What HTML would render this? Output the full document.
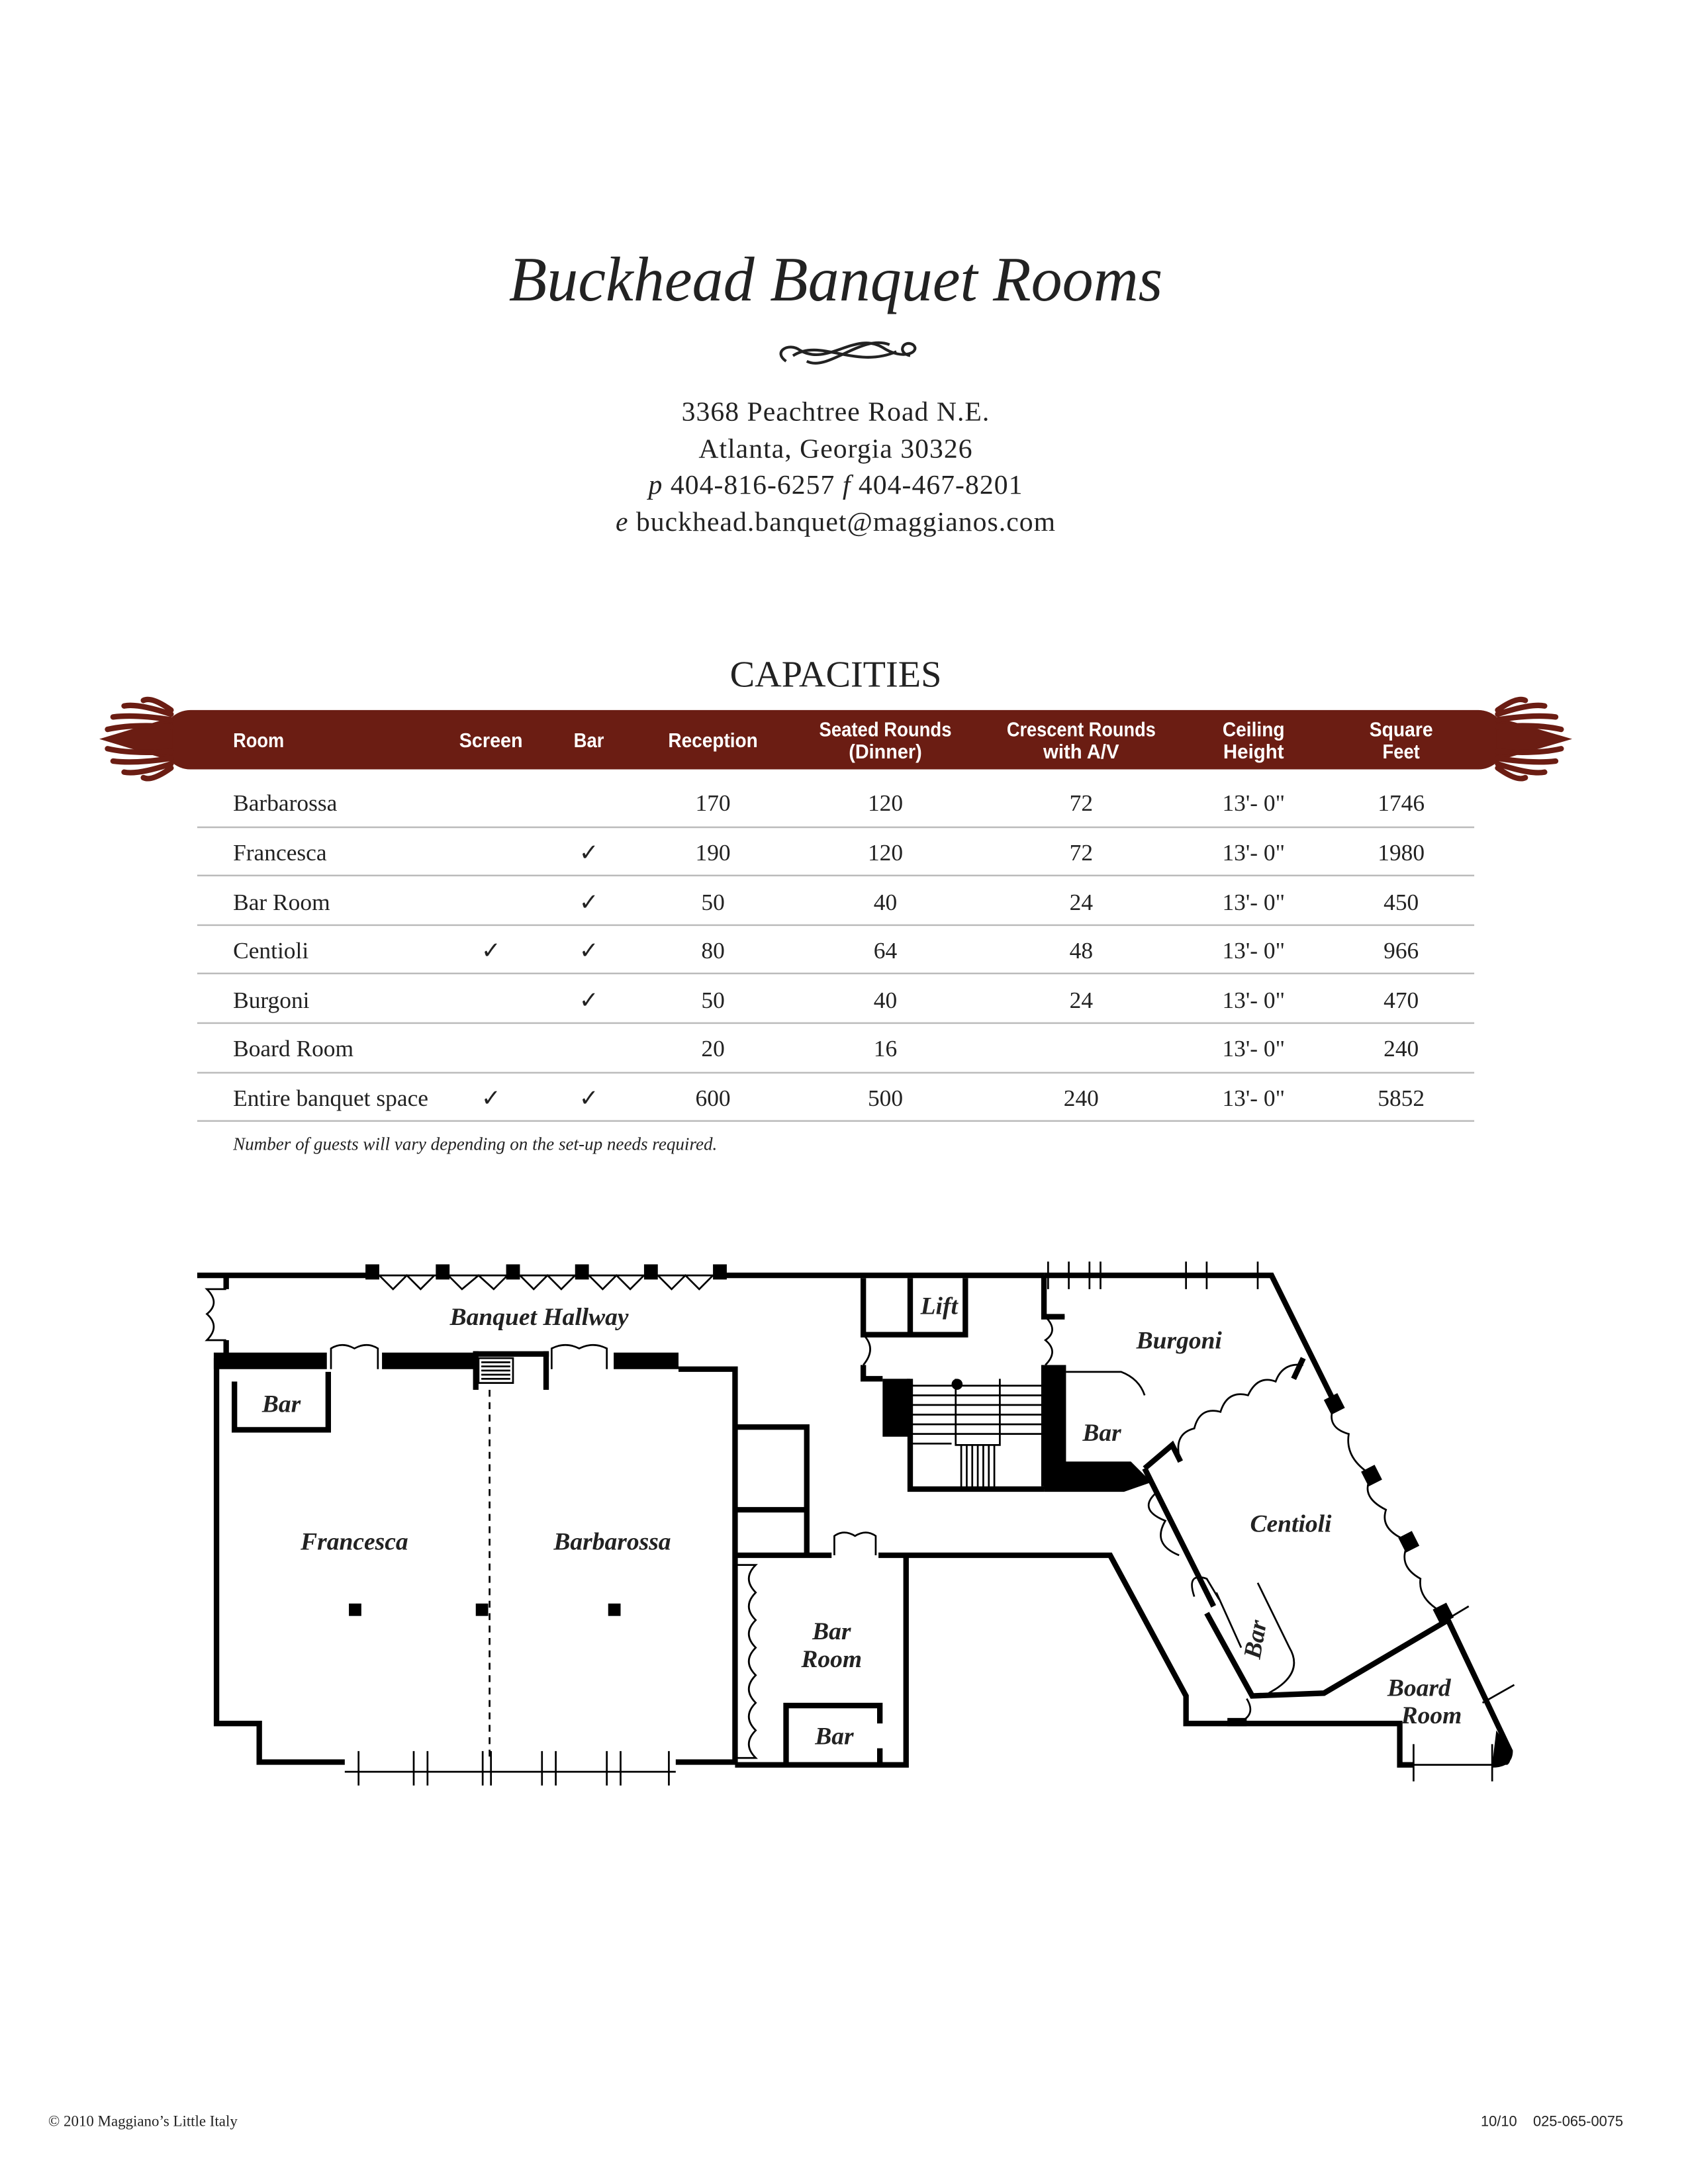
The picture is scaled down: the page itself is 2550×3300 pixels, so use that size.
<!DOCTYPE html>
<html><head><meta charset="utf-8"><style>
html,body{margin:0;padding:0;background:#fff}
svg{display:block}
.s{font-family:"Liberation Serif",serif}
.h{font-family:"Liberation Sans Narrow","Liberation Sans",sans-serif;font-weight:bold;fill:#fff;font-size:14.5px;text-anchor:middle}
.r{font-family:"Liberation Serif",serif;font-size:17px;fill:#222;text-anchor:middle}
.l{font-family:"Liberation Serif",serif;font-style:italic;font-weight:bold;fill:#222;font-size:18px;text-anchor:middle}
</style></head><body>
<svg width="2550" height="3300" viewBox="0 0 1224 1584" xmlns="http://www.w3.org/2000/svg">
<rect width="1224" height="1584" fill="#fff"/>
<text x="606" y="218" class="s" font-style="italic" font-size="46" text-anchor="middle" fill="#222" textLength="474" lengthAdjust="spacingAndGlyphs">Buckhead Banquet Rooms</text>
<g fill="none" stroke="#222" stroke-width="2">
<path d="M570 262 C560 255 572 248 580 254 C600 266 620 240 640 252 C655 262 668 255 662 250 C655 246 650 256 660 258"/>
<path d="M575 258 C595 245 620 268 650 255 M585 262 C600 270 625 242 645 250"/>
</g>
<g class="s" font-size="20" fill="#222" text-anchor="middle" style="white-space:pre" letter-spacing="0.5">
<text x="606" y="305">3368 Peachtree Road N.E.</text>
<text x="606" y="332">Atlanta, Georgia 30326</text>
<text x="606" y="358"><tspan font-style="italic">p</tspan>  404-816-6257   <tspan font-style="italic">f</tspan>  404-467-8201</text>
<text x="606" y="385"><tspan font-style="italic">e</tspan>  buckhead.banquet@maggianos.com</text>
<text x="606" y="498" font-size="27" letter-spacing="0">CAPACITIES</text>
</g>
<rect x="118" y="515" width="974" height="43" rx="20" fill="#6b1d13"/>
<g fill="#6b1d13">
<path d="M125 520 L72 536 L125 552 Z"/>
<path d="M1085 520 L1140 536 L1085 552 Z"/>
<g stroke="#6b1d13" stroke-width="4" fill="none" stroke-linecap="round">
<path d="M124 518 Q100 510 90 512 M124 522 Q98 518 82 520 M124 527 Q95 525 78 529 M124 545 Q95 547 78 543 M124 550 Q98 554 82 552 M124 554 Q100 562 90 560 M124 515 Q110 505 104 508 M124 557 Q110 567 104 564"/>
<path d="M1086 518 Q1110 510 1120 512 M1086 522 Q1112 518 1128 520 M1086 527 Q1115 525 1132 529 M1086 545 Q1115 547 1132 543 M1086 550 Q1112 554 1128 552 M1086 554 Q1110 562 1120 560 M1086 515 Q1100 505 1106 508 M1086 557 Q1100 567 1106 564"/>
</g></g>
<g class="h" lengthAdjust="spacingAndGlyphs">
<text x="169" y="542" style="text-anchor:start" textLength="37" lengthAdjust="spacingAndGlyphs">Room</text>
<text x="356" y="542" textLength="46" lengthAdjust="spacingAndGlyphs">Screen</text>
<text x="427" y="542" textLength="22" lengthAdjust="spacingAndGlyphs">Bar</text>
<text x="517" y="542" textLength="65" lengthAdjust="spacingAndGlyphs">Reception</text>
<text x="642" y="534" textLength="96" lengthAdjust="spacingAndGlyphs">Seated Rounds</text><text x="642" y="550" textLength="53" lengthAdjust="spacingAndGlyphs">(Dinner)</text>
<text x="784" y="534" textLength="108" lengthAdjust="spacingAndGlyphs">Crescent Rounds</text><text x="784" y="550" textLength="55" lengthAdjust="spacingAndGlyphs">with A/V</text>
<text x="909" y="534" textLength="45" lengthAdjust="spacingAndGlyphs">Ceiling</text><text x="909" y="550" textLength="44" lengthAdjust="spacingAndGlyphs">Height</text>
<text x="1016" y="534" textLength="46" lengthAdjust="spacingAndGlyphs">Square</text><text x="1016" y="550" textLength="27" lengthAdjust="spacingAndGlyphs">Feet</text>
</g>
<g stroke="#bbb" stroke-width="1.2">
<line x1="143" y1="600" x2="1069" y2="600"/><line x1="143" y1="635" x2="1069" y2="635"/><line x1="143" y1="671" x2="1069" y2="671"/><line x1="143" y1="706" x2="1069" y2="706"/><line x1="143" y1="742" x2="1069" y2="742"/><line x1="143" y1="778" x2="1069" y2="778"/><line x1="143" y1="813" x2="1069" y2="813"/>
</g>
<g class="r">
<text x="169" y="588" style="text-anchor:start">Barbarossa</text><text x="517" y="588">170</text><text x="642" y="588">120</text><text x="784" y="588">72</text><text x="909" y="588">13'- 0"</text><text x="1016" y="588">1746</text>
<text x="169" y="624" style="text-anchor:start">Francesca</text><text x="427" y="624">✓</text><text x="517" y="624">190</text><text x="642" y="624">120</text><text x="784" y="624">72</text><text x="909" y="624">13'- 0"</text><text x="1016" y="624">1980</text>
<text x="169" y="660" style="text-anchor:start">Bar Room</text><text x="427" y="660">✓</text><text x="517" y="660">50</text><text x="642" y="660">40</text><text x="784" y="660">24</text><text x="909" y="660">13'- 0"</text><text x="1016" y="660">450</text>
<text x="169" y="695" style="text-anchor:start">Centioli</text><text x="356" y="695">✓</text><text x="427" y="695">✓</text><text x="517" y="695">80</text><text x="642" y="695">64</text><text x="784" y="695">48</text><text x="909" y="695">13'- 0"</text><text x="1016" y="695">966</text>
<text x="169" y="731" style="text-anchor:start">Burgoni</text><text x="427" y="731">✓</text><text x="517" y="731">50</text><text x="642" y="731">40</text><text x="784" y="731">24</text><text x="909" y="731">13'- 0"</text><text x="1016" y="731">470</text>
<text x="169" y="766" style="text-anchor:start">Board Room</text><text x="517" y="766">20</text><text x="642" y="766">16</text><text x="909" y="766">13'- 0"</text><text x="1016" y="766">240</text>
<text x="169" y="802" style="text-anchor:start">Entire banquet space</text><text x="356" y="802">✓</text><text x="427" y="802">✓</text><text x="517" y="802">600</text><text x="642" y="802">500</text><text x="784" y="802">240</text><text x="909" y="802">13'- 0"</text><text x="1016" y="802">5852</text>
</g>
<text x="169" y="834" class="s" font-style="italic" font-size="13" fill="#222">Number of guests will vary depending on the set-up needs required.</text>

<g fill="none" stroke="#000" stroke-width="4" stroke-linejoin="miter">
<path d="M143 925 H270 M522 925 H757"/>
<path d="M164 925 V935 M164 972 V985"/>
<path d="M157 985 V1250 H188 V1278 H250 M490 1278 H533 V993 H492"/>
<path d="M170 1002 V1037 H238 V995"/>
<path d="M533 1035 H585 V1128 M533 1095 H585 M533 1128 H603 M637 1128 H805 L860 1230 V1250 H1015 V1280 H1025 M1082 1280 Q1095 1280 1095 1270 L1050 1175"/>
<path d="M657 1128 V1280 H533"/>
<path d="M570 1280 V1237 H638 V1250 M638 1268 V1280"/>
<path d="M626 927 V968 H700 V927 M660 927 V968"/>
<path d="M626 990 V1000 H640 M757 925 V955 H772 M757 990 V1078"/>
<path d="M660 1000 V1080 H757"/>
<path d="M757 925 H922 L968 1018"/>
<path d="M1050 1175 L960 1228 L908 1230 L875 1170"/>
<path d="M830 1065 L850 1048 L856 1060 M945 985 L938 1000"/>
<path d="M830 1065 L880 1165"/>
</g>
<g fill="#000">
<rect x="155" y="981" width="82" height="12"/><rect x="277" y="981" width="68" height="12"/><rect x="445" y="981" width="47" height="12"/>
<rect x="343" y="980" width="55" height="4"/><rect x="343" y="980" width="4" height="28"/><rect x="394" y="980" width="4" height="28"/>
<rect x="640" y="1000" width="20" height="42"/>
<rect x="757" y="990" width="16" height="90"/>
<path d="M757 1060 H820 L835 1075 L815 1082 H757 Z"/>
<rect x="253" y="1163" width="9" height="9"/><rect x="345" y="1163" width="9" height="9"/><rect x="441" y="1163" width="9" height="9"/>
<path d="M1085 1255 Q1100 1275 1093 1280 H1082 Z"/>
<rect x="890" y="1246" width="14" height="6"/>
</g>
<g stroke="#000" stroke-width="1.3" fill="none">
<path d="M347 985 H372 V1003 H347 Z M349 988 H370 M349 991 H370 M349 994 H370 M349 997 H370 M349 1000 H370"/>
<path d="M355 1008 V1278" stroke-dasharray="5,4"/>
<path d="M660 1005 H757 M660 1012 H757 M660 1019 H757 M660 1026 H757 M660 1033 H757 M660 1040 H757 M660 1047 H690 M693 1000 V1048 H725 V1000 M697 1048 V1080 M701 1048 V1080 M705 1048 V1080 M709 1048 V1080 M713 1048 V1080 M717 1048 V1080 M721 1048 V1080"/>
<path d="M270 925 H522 M275 925 L285 935 L295 925 L305 935 L315 925 M325 925 L335 935 L347 925 L358 935 L368 925 M377 925 L387 935 L397 925 L407 935 L417 925 M427 925 L437 935 L447 925 L457 935 L467 925 M477 925 L487 935 L497 925 L507 935 L517 925"/>
<path d="M240 993 V978 Q248 973 257 978 Q266 973 274 978 V993 M400 993 V978 Q410 973 420 978 Q430 973 440 978 V993"/>
<path d="M605 1128 V1114 Q612 1109 620 1114 Q628 1109 635 1114 V1128"/>
<path d="M164 935 H150 Q160 945 150 953 Q160 962 150 972 H164"/>
<path d="M640 968 H626 Q636 978 626 990"/>
<path d="M772 955 H758 Q768 965 758 972 Q768 980 758 990"/>
<path d="M533 1135 H548 Q538 1145 548 1155 Q538 1165 548 1175 Q538 1185 548 1195 Q538 1205 548 1215 Q538 1225 548 1235 Q538 1245 548 1255 Q538 1265 548 1275 H533"/>
<path d="M250 1285 H490"/>
<path d="M760 915 V935 M775 915 V935 M790 915 V935 M798 915 V935 M860 915 V935 M875 915 V935 M912 915 V935"/>
<path d="M260 1270 V1295 M300 1270 V1295 M310 1270 V1295 M350 1270 V1295 M356 1270 V1295 M393 1270 V1295 M403 1270 V1295 M440 1270 V1295 M450 1270 V1295 M485 1270 V1295"/>
<path d="M1025 1265 V1292 M1082 1265 V1292 M1025 1280 H1082"/>
<path d="M856 1060 Q850 1040 866 1036 Q870 1020 885 1024 Q890 1008 905 1012 Q912 997 925 1002 Q930 988 945 990"/>
<path d="M968 1018 Q960 1035 978 1040 Q975 1058 995 1070 Q985 1085 1005 1095 Q1000 1110 1022 1118 Q1012 1135 1030 1145 Q1028 1160 1047 1170"/>
<path d="M838 1083 Q825 1095 845 1103 Q835 1120 855 1128"/>
<path d="M866 1158 Q860 1140 875 1145 L884 1160 M882 1155 L900 1195 M912 1148 L935 1195 Q945 1212 925 1225 L920 1228"/>
<path d="M904 1232 Q912 1245 896 1250"/>
<path d="M773 995 H813 Q826 1000 830 1012"/>
<path d="M1040 1180 L1065 1165 M1075 1235 L1098 1222"/>
</g>
<g fill="#000">
<rect x="265" y="917" width="10" height="11"/><rect x="316" y="917" width="10" height="11"/><rect x="367" y="917" width="10" height="11"/><rect x="417" y="917" width="10" height="11"/><rect x="467" y="917" width="10" height="11"/><rect x="517" y="917" width="10" height="11"/>
<circle cx="658" cy="1004" r="4"/><circle cx="694" cy="1004" r="4"/>
<rect x="962" y="1012" width="11" height="12" transform="rotate(-27 968 1018)"/>
<rect x="989" y="1064" width="11" height="12" transform="rotate(-27 995 1070)"/>
<rect x="1016" y="1112" width="11" height="12" transform="rotate(-27 1022 1118)"/>
<rect x="1041" y="1164" width="11" height="12" transform="rotate(-27 1047 1170)"/>
</g>
<g class="l">
<text x="391" y="961">Banquet Hallway</text>
<text x="204" y="1024">Bar</text>
<text x="257" y="1124">Francesca</text>
<text x="444" y="1124">Barbarossa</text>
<text x="681" y="953">Lift</text>
<text x="855" y="978">Burgoni</text>
<text x="799" y="1045">Bar</text>
<text x="936" y="1111">Centioli</text>
<text x="603" y="1189">Bar</text>
<text x="603" y="1209">Room</text>
<text x="605" y="1265">Bar</text>
<text x="1029" y="1230">Board</text>
<text x="1038" y="1250">Room</text>
<text x="0" y="0" transform="translate(916 1190) rotate(-80)">Bar</text>
</g>
<text x="35" y="1542" class="s" font-size="11" fill="#222">© 2010 Maggiano’s Little Italy</text>
<text x="1177" y="1542" font-family="Liberation Sans,sans-serif" font-size="10.5" fill="#222" text-anchor="end" style="white-space:pre">10/10    025-065-0075</text>
</svg>
</body></html>
